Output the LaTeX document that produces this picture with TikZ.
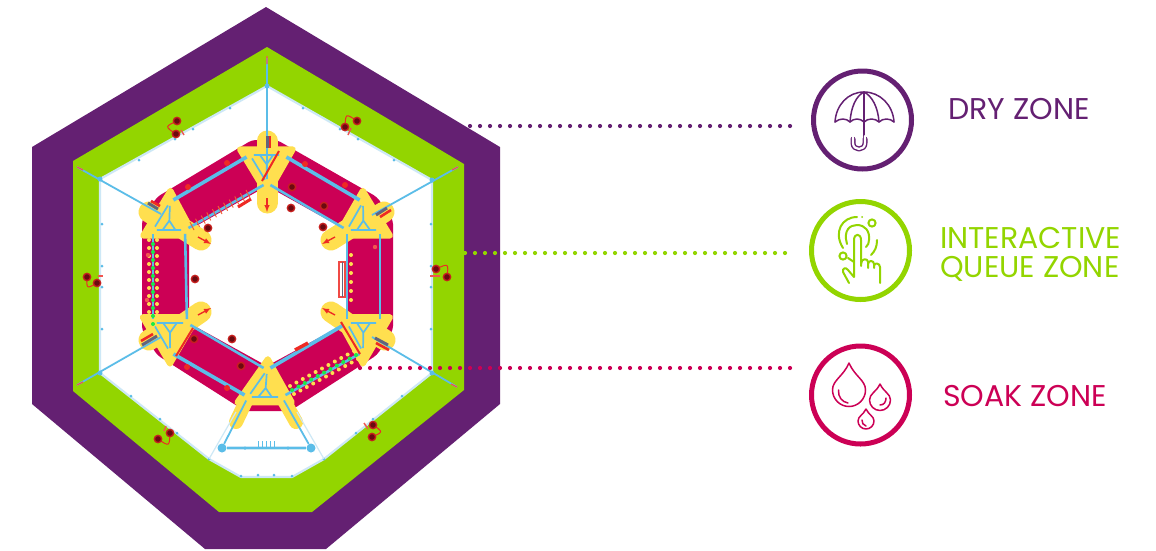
\documentclass[tikz,border=0pt]{standalone}
\usepackage{fontspec}
\setmainfont{Poppins}
\usetikzlibrary{calc}
\definecolor{purp}{HTML}{642072}
\definecolor{grn}{HTML}{93D500}
\definecolor{mag}{HTML}{CC0055}
\definecolor{sky}{HTML}{5BBDE8}
\definecolor{pale}{HTML}{CDE8F6}
\definecolor{yel}{HTML}{FFDF4F}
\definecolor{rd}{HTML}{EE2A24}
\definecolor{drk}{HTML}{6B0A10}
\tikzset{
  junc/.style={circle,fill=sky,inner sep=0pt,minimum size=7.5pt},
  rimpt/.style={circle,fill=sky,inner sep=0pt,minimum size=3pt},
  rod/.style={draw=sky,line width=2.6pt},
  rodthick/.style={draw=sky,line width=3.6pt},
  strut/.style={draw=sky,line width=1.7pt},
  rim/.style={draw=pale,line width=2.2pt},
  lobe/.style={draw=yel,line width=21pt,line cap=round},
  redbar/.style={draw=rd,line width=2.6pt},
  greybar/.style={draw=sky!50!drk,line width=3pt},
  redarrow/.style={draw=rd,line width=1.4pt,-latex},
  ring/.style={circle,line width=5pt,inner sep=0pt,minimum size=98pt,fill=white},
  dots/.style={line cap=round,line width=4.2pt,dash pattern=on 0pt off 10pt},
  icon/.style={line width=1.5pt,line cap=round,line join=round},
  label/.style={font=\fontsize{30}{29}\selectfont,align=left,anchor=west,inner sep=0pt}
}
% yellow plate and blue triangle of one corner of the frame
\newcommand{\plate}[3]{%
  \coordinate (cc) at (barycentric cs:#1=1,#2=1,#3=1);
  \fill[yel,draw=yel,line width=6pt,line join=round] ($(cc)!1.6!(#1)$) -- ($(cc)!1.6!(#2)$) -- ($(cc)!1.6!(#3)$) -- cycle;}
% apex first, then the two base corners
\newcommand{\truss}[3]{%
  \coordinate (cc) at (barycentric cs:#1=1,#2=1,#3=1);
  \draw[strut] (#1)--(#2)--(#3)--cycle;
  \draw[strut] (#1)--(cc)--($(#2)!.3!(#3)$) (cc)--($(#2)!.7!(#3)$);}
\newcommand{\darkdot}[2]{\fill[rd!70!drk] (#1,#2) circle[radius=4.4pt];\fill[drk] (#1,#2) circle[radius=2.8pt];}
% a red hook between two dark dots, with a small bar: x1 y1 x2 y2 and bar ends
\newcommand{\hook}[8]{%
  \draw[rd,line width=1pt] (#1,#2) .. controls ({(#1+#3)/2+(#2-#4)*.9},{(#2+#4)/2+(#3-#1)*.9}) .. (#3,#4);
  \draw[rd!80,line width=1.4pt] (#5,#6)--(#7,#8);
  \darkdot{#1}{#2}\darkdot{#3}{#4}}
\newcommand{\drop}[4]{% x, tip y, centre y, radius
  ({#1},{#2}) .. controls ({#1-.35*#4},{#2+.5*(#3-#2)}) and ({#1-#4},{#3-.6*#4}) .. ({#1-#4},{#3})
  .. controls ({#1-#4},{#3+.55*#4}) and ({#1-.55*#4},{#3+#4}) .. ({#1},{#3+#4})
  .. controls ({#1+.55*#4},{#3+#4}) and ({#1+#4},{#3+.55*#4}) .. ({#1+#4},{#3})
  .. controls ({#1+#4},{#3-.6*#4}) and ({#1+.35*#4},{#2+.5*(#3-#2)}) .. ({#1},{#2}) -- cycle}
\begin{document}
\begin{tikzpicture}[x=1pt,y=-1pt]
\useasboundingbox (0,0) rectangle (1156,550);
% zones
\fill[purp] (266,7)--(500,147)--(500,404)--(326,549)--(205,549)--(32,404)--(32,147)--cycle;
\fill[grn] (267,47)--(464,164)--(464,390)--(312,512)--(219,512)--(73,391)--(73,161)--cycle;
\coordinate (rT) at (267,86);
\coordinate (rUR) at (432,180);
\coordinate (rLR) at (432,373);
\coordinate (rB1) at (324,459);
\coordinate (rB2) at (292,477);
\coordinate (rB3) at (241,477);
\coordinate (rB4) at (209,459);
\coordinate (rLL) at (100,373);
\coordinate (rUL) at (100,179);
\fill[white] (rT)--(rUR)--(rLR)--(rB1)--(rB2)--(rB3)--(rB4)--(rLL)--(rUL)--cycle;
\draw[rim] (rT)--(rUR)--(rLR)--(rB1)--(rB2)--(rB3)--(rB4)--(rLL)--(rUL)--cycle;
\foreach \px/\py in {230/108,193/129,175/139,139/160,303/108,340/129,358/139,394/160,102/224,102/266,102/287,102/329,431/224,431/266,431/287,431/329,131/396,160/419,177/433,209/459,241/476,258/475,402/396,373/419,356/433,324/459,292/476,274/475}
  \node[rimpt] at (\px,\py) {};
% soak zone
\fill[mag,even odd rule,rounded corners=4pt]
  (252,140)--(277,140)--(377,197)--(393,220)--(393,330)--(377,355)--(290,411)--(245,411)--(157,355)--(142,330)--(142,220)--(157,197)--cycle
  (267,186)--(346,230)--(346,323)--(267,366)--(189,323)--(189,230)--cycle;
% frame nodes
\node[junc] (a1) at (250,155) {};
\node[junc] (a2) at (283,155) {};
\node[junc] (a3) at (267,183) {};
\node[junc] (b1) at (363,202) {};
\node[junc] (b2) at (347,230) {};
\node[junc] (b3) at (380,230) {};
\node[junc] (c1) at (347,323) {};
\node[junc] (c2) at (380,323) {};
\node[junc] (c3) at (363,352) {};
\node[junc] (d1) at (267,370) {};
\node[junc] (d2) at (248,397) {};
\node[junc] (d3) at (282,397) {};
\node[junc] (e1) at (153,323) {};
\node[junc] (e2) at (187,323) {};
\node[junc] (e3) at (170,352) {};
\node[junc] (f1) at (170,202) {};
\node[junc] (f2) at (153,230) {};
\node[junc] (f3) at (185,230) {};
\node[junc,minimum size=9pt] (g1) at (222,448) {};
\node[junc,minimum size=9pt] (g2) at (311,448) {};
% yellow lobes and plates
\draw[lobe] (267,141)--(267,155);
\draw[lobe] (267,183)--(267,203);
\draw[lobe] (149,212)--(165,222);
\draw[lobe] (185,230)--(201,240);
\draw[lobe] (384,212)--(368,222);
\draw[lobe] (347,230)--(331,240);
\draw[lobe] (201,312)--(185,323);
\draw[lobe] (149,340)--(165,330);
\draw[lobe] (331,312)--(347,323);
\draw[lobe] (385,340)--(369,330);
\draw[yel,line width=14pt,line cap=round] (248,397)--(236,422);
\draw[yel,line width=14pt,line cap=round] (282,397)--(296,422);
\plate{a1}{a2}{a3}
\plate{b1}{b2}{b3}
\plate{c1}{c2}{c3}
\plate{d1}{d2}{d3}
\plate{e1}{e2}{e3}
\plate{f1}{f2}{f3}
% spokes
\coordinate (sT) at (267,58);
\coordinate (sUL) at (77,167);
\coordinate (sUR) at (458,167);
\coordinate (sLL) at (77,385);
\coordinate (sLR) at (457,387);
\coordinate (eUL) at (161,214);
\coordinate (eUR) at (372,215);
\coordinate (eLL) at (161,337);
\coordinate (eLR) at (372,337);
\draw[sky,line width=1.8pt] (sT)--(a3);
\draw[sky,line width=1.8pt] (sUL)--(eUL);
\draw[sky,line width=1.8pt] (sUR)--(eUR);
\draw[sky,line width=1.8pt] (sLL)--(eLL);
\draw[sky,line width=1.8pt] (sLR)--(eLR);
\foreach \c in {rT,rUL,rUR,rLL,rLR} \node[rimpt,minimum size=5pt] at (\c) {};
\draw[rd!80,line width=1.3pt] (267,56)--(267,64) (77,167)--(83,170) (458,167)--(452,170) (77,385)--(83,382) (457,387)--(451,384);
% boxes on the lobes
\draw[greybar] (148,203)--(158,209);
\draw[redbar] (151,201)--(160,206);
\draw[greybar] (387,208)--(376,215);
\draw[redbar] (391,210)--(380,217);
\draw[greybar] (142,345)--(157,336);
\draw[redbar] (141,341)--(153,334);
\draw[greybar] (388,345)--(375,338);
\draw[redbar] (389,350)--(376,343);
\draw[greybar] (267,136)--(267,148);
\draw[redbar] (270,136)--(270,148);
\draw[redarrow] (267,198)--(267,212);
\draw[redarrow] (198,237)--(211,244);
\draw[redarrow] (335,237)--(322,244);
\draw[redarrow] (198,315)--(211,308);
\draw[redarrow] (335,315)--(322,308);
% rods of the frame
\draw[rodthick] (f1)--(a1);
\draw[rod] (f3)--(a3);
\draw[rodthick] (a2)--(b1);
\draw[rod] (a3)--(b2);
\draw[rod] (b2)--(c1);
\draw[rod] (b3)--(c2);
\draw[rodthick] (c1)--(d1);
\draw[rod] (c3)--(d3);
\draw[rod] (d1)--(e2);
\draw[rodthick] (d2)--(e3);
\draw[rod] (e1)--(f2);
\draw[rod] (e2)--(f3);
% bottom triangle
\draw[pale,line width=4pt] (g1)--(g2);
\draw[sky,line width=1.5pt] (g1)--(g2);
\draw[pale,line width=1.2pt] (rB4)--(236,412);
\draw[pale,line width=1.2pt] (rB1)--(297,412);
\draw[sky,line width=1.8pt] (g1)--(d2);
\draw[sky,line width=1.8pt] (g2)--(d3);
\draw[sky,line width=1pt] (258,441)--(258,447) (262,441)--(262,447) (266,441)--(266,447) (270,441)--(270,447) (274,441)--(274,447);
\node[rimpt,minimum size=3.5pt] at (245,448) {};
\node[rimpt,minimum size=3.5pt] at (288,448) {};
\truss{a3}{a1}{a2}
\truss{b1}{b2}{b3}
\truss{c3}{c1}{c2}
\truss{d1}{d2}{d3}
\truss{e3}{e1}{e2}
\truss{f1}{f2}{f3}
% beads on the left rod
\foreach \yy in {240,248,...,320} {
  \fill[yel] (149,\yy) circle[radius=2pt] (157,\yy) circle[radius=2pt];
  \fill[green!70!sky] (153,{\yy+4}) circle[radius=2pt];}
% beads on the lower right rod
\foreach \t in {0,.1,...,1.01} {
  \coordinate (bd) at ($(292,390)!\t!(356,355)$);
  \fill[yel] ($(bd)+(-2,-4)$) circle[radius=2pt] ($(bd)+(2,4)$) circle[radius=2pt];
  \fill[green!70!sky] (bd) circle[radius=2pt];}
% comb on the upper left inner rod
\foreach \t in {0,.1,...,1.01} {
  \coordinate (bd) at ($(192,226)!\t!(248,194)$);
  \draw[rd!70!yel,line width=.9pt] ($(bd)+(-2,-4)$)--($(bd)+(2,4)$);}
\draw[redbar,line width=3pt] (238,207)--(251,199);
% right band details
\foreach \yy in {255,264,...,300} \fill[yel] (351,\yy) circle[radius=2pt];
\draw[rd!85,line width=1.6pt] (339,262) rectangle (345,297);
\draw[greybar,line width=1pt] (342,262)--(342,297);
% ladders at the ends of the bands
\draw[rd,line width=2pt] (193,328)--(176,356);
\draw[rd,line width=2pt] (341,322)--(360,354);
\draw[rd,line width=2pt] (279,151)--(262,181);
\draw[redbar,line width=3.5pt] (295,350)--(308,343);
\foreach \px/\py in {188/187,227/163,305/164,345/185,187/367,227/388} \fill[rd] (\px,\py) circle[radius=3pt];
\foreach \px/\py in {375/247,148/255,147/300} \fill[rd!80] (\px,\py) circle[radius=2.2pt];
% dark dots
\foreach \px/\py in {208/228,195/279,292/187,291/208,324/206,323/227,194/339,232/339,241/366} {\darkdot{\px}{\py}}
% hooks
\hook{177}{121}{176}{134}{181}{130}{184}{135}
\hook{357}{121}{345}{127}{351}{128}{348}{135}
\hook{447}{277}{436}{269}{430}{276}{440}{276}
\hook{87}{277}{97}{283}{98}{276}{103}{276}
\hook{158}{439}{170}{433}{166}{426}{164}{431}
\hook{372}{437}{373}{425}{364}{423}{368}{429}
% icon rings
\node[ring,draw=purp] (dry) at (862.5,120) {};
\node[ring,draw=grn] (queue) at (860.5,250.5) {};
\node[ring,draw=mag] (soak) at (860.5,395) {};
% dotted leaders
\coordinate (lp) at (470,126);
\coordinate (lpe) at (791,126);
\coordinate (lg) at (465,253);
\coordinate (lge) at (791,253);
\coordinate (lm) at (360,368);
\coordinate (lme) at (791,368);
\draw[purp,dots] (lp)--(lpe);
\draw[grn,dots] (lg)--(lge);
\draw[mag,dots] (lm)--(lme);
% umbrella
\begin{scope}[icon]
\draw[purp] (835,122) .. controls (836,105) and (848,92) .. (864,92) .. controls (880,92) and (893,105) .. (894,122);
\draw[purp] (835,122) .. controls (840,118) and (846,118) .. (850,122) .. controls (854,118) and (860,118) .. (864,122) .. controls (868,118) and (875,118) .. (879,122) .. controls (883,118) and (890,118) .. (894,122);
\draw[purp] (850,122) .. controls (851,107) and (856,96) .. (864,92) .. controls (872,96) and (878,107) .. (879,122);
\draw[purp] (864,92)--(864,137);
\draw[purp,line width=5pt] (865,139)--(865,143) .. controls (865,151) and (853,151) .. (853,143)--(853,139);
\draw[white,line width=2.2pt] (865,136)--(865,143) .. controls (865,151) and (853,151) .. (853,143)--(853,136);
\end{scope}
% touch icon
\begin{scope}[icon,line width=2pt]
\draw[grn] (847,244) .. controls (843,230) and (850,225) .. (857,225) .. controls (865,225) and (870,231) .. (869,240) .. controls (869,243) and (868,245) .. (866,247);
\draw[grn] (843,248) .. controls (833,232) and (842,217) .. (857,217);
\draw[grn] (877,240) .. controls (877,247) and (875,251) .. (871,255);
\draw[grn] (848,258) .. controls (851,260) and (854,262) .. (854,262);
\draw[grn] (872,223) circle[radius=3.6pt];
\draw[grn] (843,256) circle[radius=3.6pt];
\fill[grn] (862,217) circle[radius=1pt];
\draw[grn] (849,283) -- (843,272) .. controls (842,268) and (846,267) .. (848,270) -- (854,277) -- (854,240) .. controls (854,233) and (861,233) .. (861,240) -- (861,266);
\draw[grn] (861,264) .. controls (861,258) and (868,258) .. (868,262) -- (868,268);
\draw[grn] (868,264) .. controls (868,260) and (874,260) .. (874,264) -- (874,268);
\draw[grn] (874,266) .. controls (874,262) and (880,263) .. (880,267) -- (880,283);
\end{scope}
% drops
\begin{scope}[icon]
\draw[mag] \drop{849}{363}{390}{16.5};
\draw[mag] (838.5,390) .. controls (838,397) and (842,402) .. (848,403);
\draw[mag] \drop{880}{384}{400}{10.5};
\draw[mag] (886,398) .. controls (886,402) and (884,405) .. (880,405);
\draw[mag] \drop{866}{409}{421}{8};
\draw[mag] (862,420) .. controls (862,423) and (863,425) .. (866,426);
\end{scope}
% labels
\node[label,text=purp] (t1) at (948,109) {DRY ZONE};
\node[label,text=grn,align=left] (t2) at (940,254) {INTERACTIVE\\QUEUE ZONE};
\node[label,text=mag] (t3) at (943,396) {SOAK ZONE};
\end{tikzpicture}
\end{document}
